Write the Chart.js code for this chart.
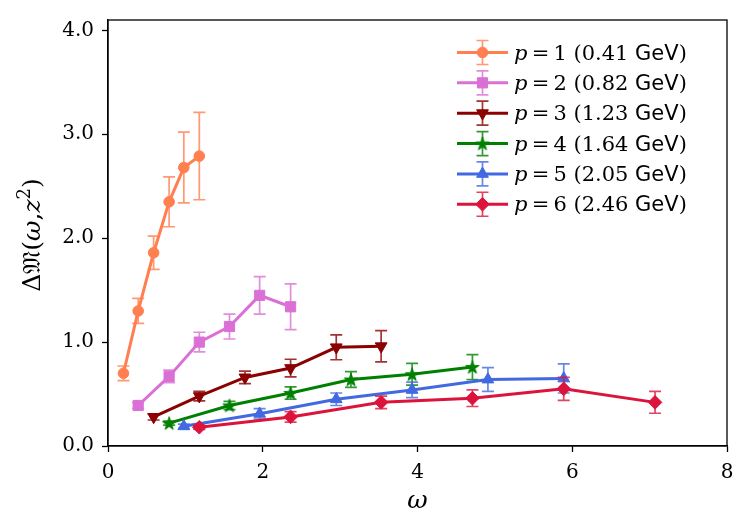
<!DOCTYPE html>
<html><head><meta charset="utf-8">
<script src="https://cdn.jsdelivr.net/npm/chart.js@4/dist/chart.umd.min.js"></script>
<style>html,body{margin:0;padding:0;background:#fff}#wrap{width:750px;height:530px;position:relative}</style>
</head><body><div id="wrap"><canvas id="c" width="750" height="530"></canvas></div>
<script>
// ---- data ----
const momenta = ['1', '2', '3', '4', '5', '6'];
const energies = ['0.41', '0.82', '1.23', '1.64', '2.05', '2.46'];
const omega1 = [0.20, 0.39, 0.59, 0.79, 0.98, 1.18];
const omega2 = [0.39, 0.79, 1.18, 1.57, 1.96, 2.36];
const omega3 = [0.59, 1.18, 1.77, 2.36, 2.95, 3.53];
const omega4 = [0.79, 1.57, 2.36, 3.14, 3.93, 4.71];
const omega5 = [0.98, 1.96, 2.95, 3.93, 4.91, 5.89];
const omega6 = [1.18, 2.36, 3.53, 4.71, 5.89, 7.07];
const value1 = [0.70, 1.30, 1.86, 2.35, 2.68, 2.79];
const error1 = [0.07, 0.12, 0.16, 0.24, 0.34, 0.42];
const value2 = [0.39, 0.67, 1.00, 1.15, 1.45, 1.34];
const error2 = [0.03, 0.06, 0.095, 0.12, 0.18, 0.22];
const value3 = [0.28, 0.48, 0.66, 0.75, 0.95, 0.96];
const error3 = [0.03, 0.045, 0.06, 0.085, 0.12, 0.15];
const value4 = [0.22, 0.39, 0.51, 0.64, 0.69, 0.76];
const error4 = [0.02, 0.04, 0.06, 0.075, 0.105, 0.12];
const value5 = [0.19, 0.31, 0.45, 0.54, 0.64, 0.65];
const error5 = [0.02, 0.05, 0.06, 0.075, 0.115, 0.14];
const value6 = [0.18, 0.28, 0.42, 0.46, 0.55, 0.42];
const error6 = [0.02, 0.05, 0.06, 0.08, 0.11, 0.105];
const xTickValues = [0, 2, 4, 6, 8];
const yTickValues = [0, 1, 2, 3, 4];
const xTitle = 'ω';
const yTitleParts = ['Δ', '𝔐', '(', 'ω', ',', 'z', '2', ')'];

// ---- styles ----
const colors = ['#FF7F50', '#DA70D6', '#8B0000', '#008000', '#4169E1', '#DC143C'];
const errColors = ['rgba(255,127,80,0.8)', 'rgba(218,112,214,0.8)', 'rgba(139,0,0,0.8)', 'rgba(0,128,0,0.8)', 'rgba(65,105,225,0.8)', 'rgba(220,20,60,0.8)'];

function makeStar(color) {
  const c = document.createElement('canvas');
  c.width = 16; c.height = 16;
  const g = c.getContext('2d');
  const cx = 8, cy = 8.6, R = 7, r = R * 0.382;
  g.beginPath();
  for (let k = 0; k < 10; k++) {
    const a = -Math.PI / 2 + k * Math.PI / 5;
    const rr = k % 2 === 0 ? R : r;
    g.lineTo(cx + rr * Math.cos(a), cy + rr * Math.sin(a));
  }
  g.closePath();
  g.fillStyle = color; g.fill();
  g.strokeStyle = color; g.lineWidth = 1; g.stroke();
  return c;
}
const markerStyles = ['circle', 'rect', 'triangle', makeStar(colors[3]), 'triangle', 'rectRot'];
const markerRot = [0, 0, 180, 0, 0, 0];
const markerRadius = [5.3, 7.2, 6.8, 7, 6.8, 6.8];

const omegas = [omega1, omega2, omega3, omega4, omega5, omega6];
const values = [value1, value2, value3, value4, value5, value6];
const errors = [error1, error2, error3, error4, error5, error6];

const datasets = omegas.map((om, i) => ({
  label: 'p = ' + momenta[i] + ' (' + energies[i] + ' GeV)',
  data: om.map((x, j) => ({ x: x, y: values[i][j] })),
  errs: errors[i],
  borderColor: colors[i],
  backgroundColor: colors[i],
  borderWidth: 3,
  pointStyle: markerStyles[i],
  rotation: markerRot[i],
  pointRadius: markerRadius[i],
  pointBorderWidth: 1,
  pointBackgroundColor: colors[i],
  pointBorderColor: colors[i],
  tension: 0,
  showLine: true,
  fill: false,
  order: 5 - i,
  clip: false
}));

const errorBarPlugin = {
  id: 'errorBars',
  beforeDatasetDraw(chart, args) {
    const i = args.index;
    const ds = chart.data.datasets[i];
    const xs = chart.scales.x, ys = chart.scales.y;
    const ctx = chart.ctx;
    ctx.save();
    ctx.strokeStyle = errColors[i];
    ctx.lineWidth = 1.7;
    ds.data.forEach((p, j) => {
      const e = ds.errs[j];
      const px = xs.getPixelForValue(p.x);
      const top = ys.getPixelForValue(p.y + e);
      const bot = ys.getPixelForValue(p.y - e);
      ctx.beginPath();
      ctx.moveTo(px, top); ctx.lineTo(px, bot);
      ctx.moveTo(px - 6, top); ctx.lineTo(px + 6, top);
      ctx.moveTo(px - 6, bot); ctx.lineTo(px + 6, bot);
      ctx.stroke();
    });
    ctx.restore();
  }
};

const framePlugin = {
  id: 'frame',
  afterDraw(chart) {
    const a = chart.chartArea, ctx = chart.ctx;
    ctx.save();
    ctx.strokeStyle = '#000'; ctx.lineWidth = 1.3;
    ctx.strokeRect(a.left, a.top, a.right - a.left, a.bottom - a.top);
    ctx.restore();
  }
};

const yTitlePlugin = {
  id: 'yTitle',
  afterDraw(chart) {
    const ctx = chart.ctx;
    const a = chart.chartArea;
    const fs = 25;
    const fonts = [
      fs + 'px "DejaVu Serif"',
      fs + 'px "DejaVu Serif"',
      fs + 'px "DejaVu Serif"',
      'italic ' + fs + 'px "DejaVu Serif"',
      fs + 'px "DejaVu Serif"',
      'italic ' + fs + 'px "DejaVu Serif"',
      Math.round(fs * 0.7) + 'px "DejaVu Serif"',
      fs + 'px "DejaVu Serif"'
    ];
    const dy = [0, 0, 0, 0, 0, 0, -10, 0];
    ctx.save();
    let w = 0;
    const widths = yTitleParts.map((t, k) => { ctx.font = fonts[k]; const m = ctx.measureText(t).width; w += m; return m; });
    ctx.translate(40, (a.top + a.bottom) / 2 + 2);
    ctx.rotate(-Math.PI / 2);
    ctx.fillStyle = '#000';
    ctx.textBaseline = 'alphabetic';
    let x = -w / 2;
    yTitleParts.forEach((t, k) => {
      ctx.font = fonts[k];
      ctx.fillText(t, x, dy[k]);
      x += widths[k];
    });
    ctx.restore();
  }
};

const legendPlugin = {
  id: 'customLegend',
  afterDraw(chart) {
    const ctx = chart.ctx;
    const fs = 21;
    ctx.save();
    chart.data.datasets.forEach((ds, i) => {
      const y = 52.5 + 30.35 * i;
      ctx.strokeStyle = colors[i];
      ctx.lineWidth = 3;
      ctx.beginPath(); ctx.moveTo(457, y); ctx.lineTo(508, y); ctx.stroke();
      ctx.strokeStyle = errColors[i];
      ctx.lineWidth = 1.7;
      ctx.beginPath();
      ctx.moveTo(482.5, y - 12); ctx.lineTo(482.5, y + 12);
      ctx.moveTo(476.5, y - 12); ctx.lineTo(488.5, y - 12);
      ctx.moveTo(476.5, y + 12); ctx.lineTo(488.5, y + 12);
      ctx.stroke();
      ctx.fillStyle = colors[i]; ctx.strokeStyle = colors[i]; ctx.lineWidth = 1;
      Chart.helpers.drawPoint(ctx, { pointStyle: markerStyles[i], rotation: markerRot[i], radius: markerRadius[i], borderWidth: 1 }, 482.5, y);
      // text
      ctx.fillStyle = '#000';
      ctx.textBaseline = 'alphabetic';
      const base = y + 7;
      let x = 514;
      const parts = [
        ['p', 'italic ' + fs + 'px "DejaVu Serif"'],
        ['\u2009=\u2009', fs + 'px "DejaVu Serif"'],
        [momenta[i], fs + 'px "DejaVu Serif"'],
        [' (' + energies[i] + ' ', fs + 'px "DejaVu Serif"'],
        ['GeV', fs + 'px "DejaVu Sans"'],
        [')', fs + 'px "DejaVu Serif"']
      ];
      parts.forEach(([t, f]) => { ctx.font = f; ctx.fillText(t, x, base); x += ctx.measureText(t).width; });
    });
    ctx.restore();
  }
};

new Chart(document.getElementById('c'), {
  type: 'line',
  data: { datasets: datasets },
  options: {
    responsive: false,
    animation: false,
    devicePixelRatio: 1,
    layout: { padding: { left: 0, right: 23, top: 14, bottom: 0 } },
    plugins: { legend: { display: false }, tooltip: { enabled: false } },
    scales: {
      x: {
        type: 'linear', min: 0, max: 8,
        afterBuildTicks(s) { s.ticks = xTickValues.map(v => ({ value: v })); },
        afterFit(s) { s.height = 84; },
        ticks: { font: { family: 'DejaVu Serif', size: 20 }, color: '#000', padding: 9, callback: v => String(v) },
        grid: { display: true, drawOnChartArea: false, drawTicks: true, tickLength: 6, tickColor: '#000', tickWidth: 1.3 },
        border: { display: true, color: '#000', width: 1.3 },
        title: { display: true, text: xTitle, font: { family: 'DejaVu Serif', size: 25, style: 'italic' }, color: '#000', padding: { top: 0, bottom: 14 } }
      },
      y: {
        type: 'linear', min: 0, max: 4.1,
        afterBuildTicks(s) { s.ticks = yTickValues.map(v => ({ value: v })); },
        afterFit(s) { s.width = 108; },
        ticks: { font: { family: 'DejaVu Serif', size: 20 }, color: '#000', padding: 8, callback: v => Number(v).toFixed(1) },
        grid: { display: true, drawOnChartArea: false, drawTicks: true, tickLength: 6, tickColor: '#000', tickWidth: 1.3 },
        border: { display: true, color: '#000', width: 1.3 }
      }
    }
  },
  plugins: [errorBarPlugin, framePlugin, yTitlePlugin, legendPlugin]
});
</script>
</body></html>
